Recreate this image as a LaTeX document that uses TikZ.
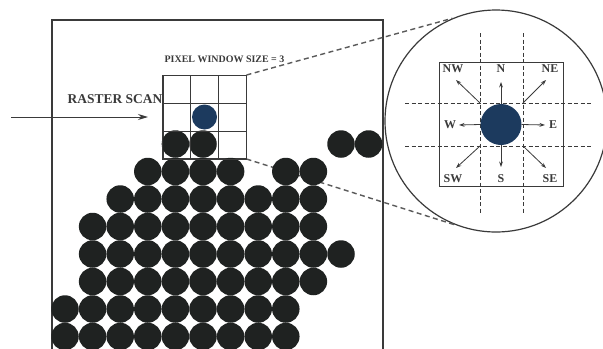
\documentclass[tikz,border=0pt]{standalone}
\usepackage{fontspec}
\setmainfont{Liberation Serif}
\usetikzlibrary{arrows.meta,calc}
\definecolor{dotblack}{HTML}{1F2221}
\definecolor{dotblue}{HTML}{1C3A5E}
\definecolor{linegray}{HTML}{3A3A3A}
\definecolor{dashgray}{HTML}{5A5A5A}
\tikzset{
  blk/.style={circle, fill=dotblack, minimum size=27.5bp, inner sep=0pt},
  bluedot/.style={circle, fill=dotblue, inner sep=0pt},
  frameline/.style={draw=linegray, line width=1.3bp},
  gridline/.style={draw=linegray, line width=1bp},
  zoomline/.style={draw=dashgray, line width=1.4bp, dash pattern=on 5bp off 3.5bp},
  guide/.style={draw=linegray, line width=0.8bp, dash pattern=on 4bp off 2.5bp},
  dirarrow/.style={draw=linegray, line width=0.8bp, -{Stealth[length=5.5bp,width=3.8bp]}},
  dirlabel/.style={font=\fontsize{12}{14}\selectfont\bfseries, text=linegray, inner sep=0pt},
}
\begin{document}
\begin{tikzpicture}[x=1bp, y=-1bp]
\useasboundingbox (0,0) rectangle (603,348);
\clip (0,0) rectangle (603,348);
\fill[white] (0,0) rectangle (603,348);

% outer frame
\draw[frameline] (52,20) rectangle (383,370);

% raster scan
\node[font=\fontsize{13.5}{15}\selectfont\bfseries, text=linegray, inner sep=0pt] (rst) at (115,99) {RASTER SCAN};
\coordinate (rs0) at (11,117);
\coordinate (rs1) at (148,117);
\draw[draw=linegray, line width=1bp, -{Stealth[length=10bp,width=6bp]}] (rs0) -- (rs1);

% window label
\node[font=\fontsize{10}{12}\selectfont\bfseries, text=linegray, inner sep=0pt] (wlab) at (224.5,59) {PIXEL WINDOW SIZE = 3};

% magnifier circle
\node[circle, draw=linegray, line width=1.2bp, minimum size=222bp, inner sep=0pt] (mag) at (496,121) {};

% pixel window
\node[draw=linegray, line width=1bp, minimum size=83bp, inner sep=0pt] (win) at (204.5,117) {};

% zoom connectors (behind dots)
\draw[zoomline] (win.north east) -- (mag.113);
\draw[zoomline] (win.south east) -- (mag.249);

% black pixels
\foreach \r/\a/\b in {0/4/5, 0/10/11, 1/3/6, 1/8/9, 2/2/9, 3/1/9, 4/1/10, 5/1/9, 6/0/8, 7/0/8}{
  \foreach \c in {\a,...,\b}{
    \node[blk] (d-\r-\c) at ({65+27.6*\c},{144+27.5*\r}) {};
  }
}

% window grid on top
\draw[gridline] (win.north west) rectangle (win.south east);
\draw[gridline] ($(win.north west)!1/3!(win.north east)$) -- ($(win.south west)!1/3!(win.south east)$);
\draw[gridline] ($(win.north west)!2/3!(win.north east)$) -- ($(win.south west)!2/3!(win.south east)$);
\draw[gridline] ($(win.north west)!1/3!(win.south west)$) -- ($(win.north east)!1/3!(win.south east)$);
\draw[gridline] ($(win.north west)!2/3!(win.south west)$) -- ($(win.north east)!2/3!(win.south east)$);
\node[bluedot, minimum size=25bp] (bp) at (204.5,117) {};

% magnified window
\node[draw=linegray, line width=1bp, minimum size=124bp, inner sep=0pt] (sq) at (501,124.5) {};
\coordinate (v1t) at (480,33);  \coordinate (v1b) at (480,214);
\coordinate (v2t) at (523,33);  \coordinate (v2b) at (523,214);
\coordinate (h1l) at (405,103); \coordinate (h1r) at (593,103);
\coordinate (h2l) at (405,146); \coordinate (h2r) at (593,146);
\draw[guide] (v1t) -- (v1b);
\draw[guide] (v2t) -- (v2b);
\draw[guide] (h1l) -- (h1r);
\draw[guide] (h2l) -- (h2r);
\node[bluedot, minimum size=41bp] (bc) at (501,124.5) {};

% labels
\node[dirlabel] (lnw) at (453,69) {NW};
\node[dirlabel] (ln)  at (501,69) {N};
\node[dirlabel] (lne) at (550,69) {NE};
\node[dirlabel] (lw)  at (450,125) {W};
\node[dirlabel] (le)  at (553,125) {E};
\node[dirlabel] (lsw) at (453,179) {SW};
\node[dirlabel] (ls)  at (501,179) {S};
\node[dirlabel] (lse) at (550,179) {SE};

% direction arrows
\coordinate (inw) at (480,103); \coordinate (ine) at (523,103);
\coordinate (isw) at (480,146); \coordinate (ise) at (523,146);
\coordinate (anw) at (456,80);  \coordinate (ane) at (546,80);
\coordinate (asw) at (456,168); \coordinate (ase) at (546,168);
\coordinate (an) at (501,82);   \coordinate (as) at (501,167);
\coordinate (aw) at (459,125);  \coordinate (ae) at (545,125);
\draw[dirarrow] (bc.north) -- (an);
\draw[dirarrow] (bc.south) -- (as);
\draw[dirarrow] (bc.west) -- (aw);
\draw[dirarrow] (bc.east) -- (ae);
\draw[dirarrow] (inw) -- (anw);
\draw[dirarrow] (ine) -- (ane);
\draw[dirarrow] (isw) -- (asw);
\draw[dirarrow] (ise) -- (ase);
\end{tikzpicture}
\end{document}
